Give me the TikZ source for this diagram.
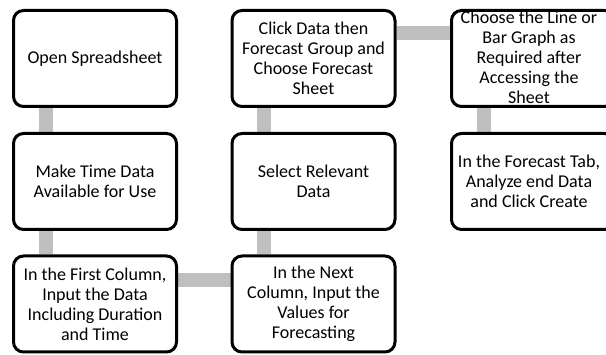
\documentclass[tikz,border=0pt]{standalone}
\usepackage{fontspec}
\setmainfont{Carlito}
\usetikzlibrary{backgrounds}
\tikzset{
  stepbox/.style={draw=black, line width=3pt, rounded corners=10pt, fill=white,
    minimum width=163pt, minimum height=96pt, inner sep=0pt},
  steptext/.style={align=center, font=\fontsize{18}{20}\selectfont, inner sep=0pt},
  link/.style={draw=linkgray, line width=14pt}
}
\definecolor{linkgray}{HTML}{BFBFBF}
\begin{document}
\begin{tikzpicture}[x=1pt,y=-1pt]
\useasboundingbox (0,0) rectangle (606,355);
\clip (0,0) rectangle (606,355);
% boxes
\node[stepbox] (L1) at (95,58.5) {};
\node[stepbox] (L2) at (95,181.5) {};
\node[stepbox] (L3) at (95,304) {};
\node[stepbox] (M1) at (313.5,58.5) {};
\node[stepbox] (M2) at (313.5,181.5) {};
\node[stepbox] (M3) at (313.5,304) {};
\node[stepbox] (R1) at (533,58.5) {};
\node[stepbox] (R2) at (533,181.5) {};
% connectors (behind boxes)
\begin{scope}[on background layer]
\path[link] ([xshift=-49pt]L1.south) -- ([xshift=-49pt]L2.north);
\path[link] ([xshift=-49pt]L2.south) -- ([xshift=-49pt]L3.north);
\path[link] ([yshift=24pt]L3.east) -- ([yshift=24pt]M3.west);
\path[link] ([xshift=-49.5pt]M3.north) -- ([xshift=-49.5pt]M2.south);
\path[link] ([xshift=-49.5pt]M2.north) -- ([xshift=-49.5pt]M1.south);
\path[link] ([yshift=25pt]M1.east) -- ([yshift=25pt]R1.west);
\path[link] ([xshift=-49.5pt]R1.south) -- ([xshift=-49.5pt]R2.north);
\end{scope}
% texts
\node[steptext] (L1t) at (L1.center) {Open Spreadsheet};
\node[steptext] (L2t) at (L2.center) {Make Time Data\\Available for Use};
\node[steptext] (L3t) at (L3.center) {In the First Column,\\Input the Data\\Including Duration\\and Time};
\node[steptext] (M1t) at (M1.center) {Click Data then\\Forecast Group and\\Choose Forecast\\Sheet};
\node[steptext] (M2t) at (M2.center) {Select Relevant\\Data};
\node[steptext] (M3t) at (M3.center) {In the Next\\Column, Input the\\Values for\\Forecasting};
\node[steptext] (R1t) at ([xshift=-4pt,yshift=1pt]R1.center) {Choose the Line or\\Bar Graph as\\Required after\\Accessing the\\Sheet};
\node[steptext] (R2t) at ([xshift=-4pt]R2.center) {In the Forecast Tab,\\Analyze end Data\\and Click Create};
\end{tikzpicture}
\end{document}
